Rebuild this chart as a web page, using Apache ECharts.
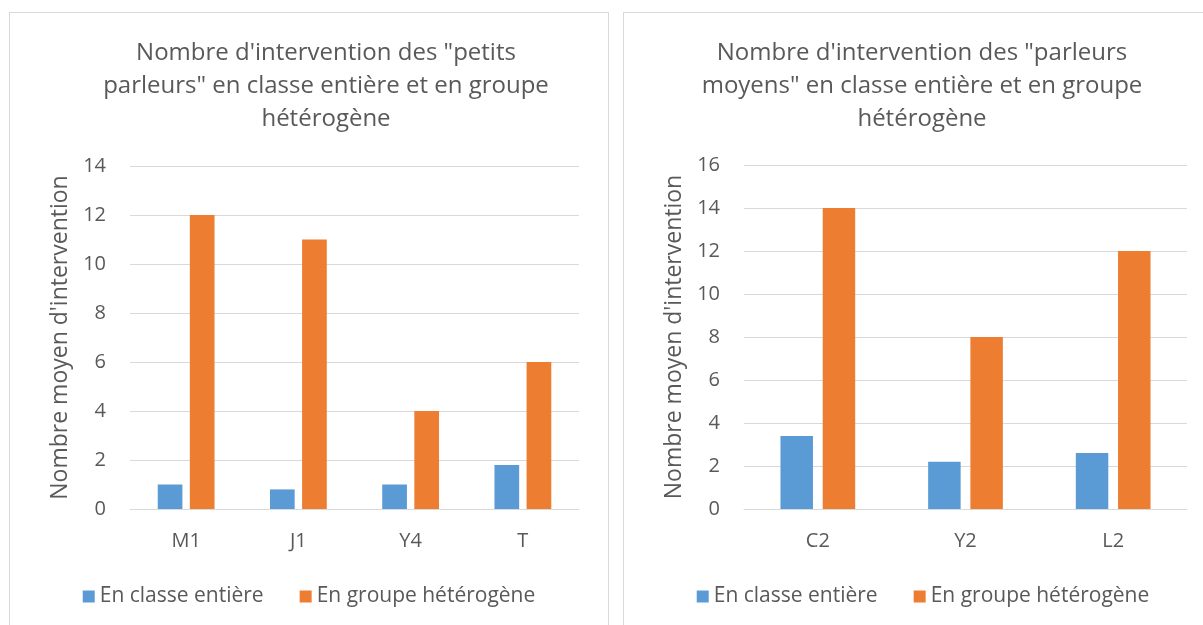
<!DOCTYPE html>
<html>
<head>
<meta charset="utf-8">
<script src="https://cdn.jsdelivr.net/npm/echarts@6/dist/echarts.min.js"></script>
<style>
  html, body { margin: 0; padding: 0; background: #fff; overflow: hidden; }
  .panel { position: absolute; top: 12px; width: 600px; height: 660px; border: 1px solid #d9d9d9; box-sizing: border-box; }
  #left { left: 9px; }
  #right { left: 623px; }
  .chart { width: 598px; height: 658px; }
</style>
</head>
<body>
<div class="panel" id="left"><div class="chart" id="chartLeft"></div></div>
<div class="panel" id="right"><div class="chart" id="chartRight"></div></div>
<script>
const SERIES_NAMES = ["En classe entière", "En groupe hétérogène"];
const COLORS = ["#5b9bd5", "#ed7d31"];

const leftTitle = "Nombre d'intervention des \"petits\nparleurs\" en classe entière et en groupe\nhétérogène";
const leftCategories = ["M1", "J1", "Y4", "T"];
const leftClasse = [1, 0.8, 1, 1.8];
const leftGroupe = [12, 11, 4, 6];
const leftMax = 14;

const rightTitle = "Nombre d'intervention des \"parleurs\nmoyens\" en classe entière et en groupe\nhétérogène";
const rightCategories = ["C2", "Y2", "L2"];
const rightClasse = [3.4, 2.2, 2.6];
const rightGroupe = [14, 8, 12];
const rightMax = 16;

const yName = "Nombre moyen d'intervention";
const FONT = "Open Sans, sans-serif";
const TEXT = "#595959";

function buildOption(title, titleX, categories, classe, groupe, max, grid) {
  return {
    animation: false,
    color: COLORS,
    title: {
      text: title,
      left: titleX,
      top: 19,
      textAlign: "center",
      textStyle: { color: TEXT, fontFamily: FONT, fontSize: 24, fontWeight: "normal", lineHeight: 33 }
    },
    legend: {
      top: 568,
      left: "center",
      itemWidth: 12,
      itemHeight: 12,
      itemGap: 36,
      icon: "rect",
      textStyle: { color: TEXT, fontFamily: FONT, fontSize: 21 },
      data: SERIES_NAMES
    },
    grid: grid,
    xAxis: {
      type: "category",
      data: categories,
      axisLine: { lineStyle: { color: "#d9d9d9", width: 1 } },
      axisTick: { show: false },
      axisLabel: { color: TEXT, fontFamily: FONT, fontSize: 20, margin: 22 }
    },
    yAxis: {
      type: "value",
      min: 0,
      max: max,
      interval: 2,
      name: yName,
      nameLocation: "middle",
      nameGap: 56,
      nameTextStyle: { color: TEXT, fontFamily: FONT, fontSize: 23 },
      axisLine: { show: false },
      axisTick: { show: false },
      axisLabel: { color: TEXT, fontFamily: FONT, fontSize: 20, margin: 24 },
      splitLine: { lineStyle: { color: "#d9d9d9", width: 1 } }
    },
    series: [
      { name: SERIES_NAMES[0], type: "bar", data: classe, barWidth: "22%", barGap: "30%" },
      { name: SERIES_NAMES[1], type: "bar", data: groupe, barWidth: "22%", barGap: "30%" }
    ]
  };
}

const chartLeft = echarts.init(document.getElementById("chartLeft"), undefined, { renderer: "canvas" });
chartLeft.setOption(buildOption(leftTitle, 311, leftCategories, leftClasse, leftGroupe, leftMax,
  { left: 120, top: 153, width: 449, height: 343 }));

const chartRight = echarts.init(document.getElementById("chartRight"), undefined, { renderer: "canvas" });
chartRight.setOption(buildOption(rightTitle, 293, rightCategories, rightClasse, rightGroupe, rightMax,
  { left: 120, top: 152, width: 443, height: 344 }));
</script>
</body>
</html>
